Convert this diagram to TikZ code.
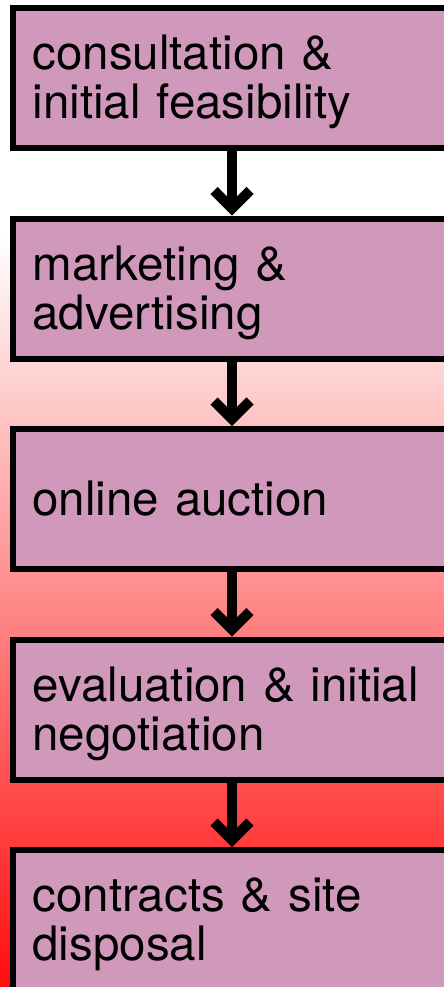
\documentclass[tikz,border=0pt]{standalone}
\usepackage{fontspec}
\setmainfont{TeX Gyre Heros}
\definecolor{boxfill}{RGB}{208,153,187}
\newcommand\topstrut{\rule{0pt}{43pt}}
\newcommand\botstrut{\rule[-10pt]{0pt}{10pt}}
\begin{document}
\begin{tikzpicture}[x=1pt,y=-1pt,
  stage/.style={draw=black, line width=6pt, fill=boxfill, rectangle, anchor=north west,
    minimum width=438pt, minimum height=140pt, text width=399pt, inner xsep=19.5pt,
    inner ysep=0pt, outer sep=0pt, align=left, font={\fontsize{47.5}{49}\selectfont}},
  shaft/.style={line width=10pt},
  chev/.style={line width=10pt, line join=miter}]
\useasboundingbox (0,0) rectangle (444,987);
\fill[white] (0,0) rectangle (444,987);
\shade[top color=white, bottom color=red!95!white] (0,235) rectangle (444,987);
\node[stage] (s1) at (13,8) {\topstrut consultation \&\\ initial feasibility\botstrut};
\node[stage] (s2) at (13,218.5) {\topstrut marketing \&\\ advertising\botstrut};
\node[stage] (s3) at (13,429) {\topstrut online auction\botstrut};
\node[stage] (s4) at (13,639.5) {\topstrut evaluation \& initial\\ negotiation\botstrut};
\node[stage] (s5) at (13,850) {\topstrut contracts \& site\\ disposal\botstrut};
\foreach \a/\b in {s1/s2,s2/s3,s3/s4,s4/s5} {
  \draw[shaft] (\a.south) -- ([yshift=10pt]\b.north);
  \draw[chev] ([xshift=-18pt,yshift=28pt]\b.north) -- ([yshift=10pt]\b.north) -- ([xshift=18pt,yshift=28pt]\b.north);
}
\end{tikzpicture}
\end{document}
